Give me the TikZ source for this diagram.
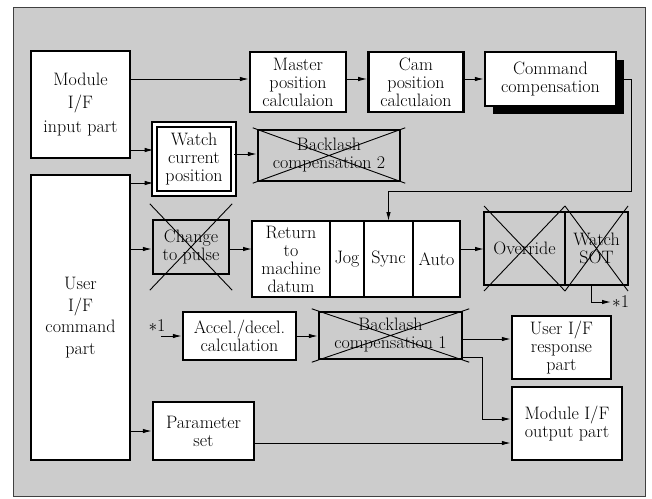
\documentclass[tikz,border=0pt]{standalone}
\usepackage{fontspec}
\usetikzlibrary{positioning, calc, arrows.meta, shadows}

\definecolor{panel}{HTML}{CCCCCC}

\tikzset{
  blk/.style={draw, line width=2.4pt, fill=white, align=center, inner sep=1pt,
              font=\fontsize{18}{18}\selectfont},
  xblk/.style={blk, fill=none},
  cell/.style={blk, outer sep=0pt, minimum height=76pt},
  xline/.style={line width=0.9pt},
  arr/.style={line width=1pt, -{Latex[length=9pt,width=4.5pt]}},
  note/.style={inner sep=1pt, font=\fontsize{18}{18}\selectfont},
}

% cross over a block: node, x overhang, y overhang
\newcommand{\boxcross}[3]{%
  \draw[xline] ($(#1.north west)+(-#2,-#3)$) -- ($(#1.south east)+(#2,#3)$)
               ($(#1.north east)+(#2,-#3)$) -- ($(#1.south west)+(-#2,#3)$);}

\begin{document}
\begin{tikzpicture}[x=1pt, y=-1pt]

    \useasboundingbox (0,0) rectangle (652,498);
    \draw[fill=panel, draw=black!75, line width=0.8pt] (13,7) rectangle (645,496);

    % top row
    \node[blk, minimum width=99pt, minimum height=107pt, font=\fontsize{18}{23.5}\selectfont]
        (minput) at (80.5,104.5) {Module\\I/F\\input part};
    \node[blk, minimum width=96pt, minimum height=60pt] (master) at (298,82) {Master\\position\\calculaion};
    \node[blk, minimum width=95pt, minimum height=60pt, right=20pt of master] (cam) {Cam\\position\\calculaion};
    \node[blk, minimum width=131pt, minimum height=54pt,
          drop shadow={shadow xshift=8pt, shadow yshift=-8pt, fill=black, opacity=1}]
        (cmdcomp) at (550.5,79) {Command\\compensation};

    \node[blk, double=white, double distance=3.5pt, line width=1.6pt, minimum width=79pt, minimum height=69pt]
        (watch) at (194,159) {Watch\\current\\position};
    \node[xblk, minimum width=142pt, minimum height=51pt] (back2) at (329,155.5) {Backlash\\compensation 2};

    \node[blk, minimum width=99pt, minimum height=285pt, font=\fontsize{18}{21.5}\selectfont]
        (ucmd) at (80.5,317.5) {User\\I/F\\command\\part};

    % middle row
    \node[xblk, minimum width=76pt, minimum height=54pt] (pulse) at (191,247) {Change\\to pulse};
    \node[cell, minimum width=78pt] (ret) at (291,259) {Return\\to\\machine\\datum};
    \node[cell, minimum width=34pt, right=0pt of ret] (jog) {Jog};
    \node[cell, minimum width=49pt, right=0pt of jog] (sync) {Sync};
    \node[cell, minimum width=47pt, right=0pt of sync] (auto) {Auto};

    \node[xblk, outer sep=0pt, minimum width=81pt, minimum height=73pt] (override) at (524.5,248.5) {Override};
    \node[xblk, outer sep=0pt, minimum width=63pt, minimum height=73pt, right=0pt of override] (sot) {Watch\\SOT};

    % lower rows
    \node[blk, minimum width=113pt, minimum height=48pt] (accel) at (239.5,336) {Accel./decel.\\calculation};
    \node[xblk, minimum width=143pt, minimum height=47pt] (back1) at (390.5,335.5) {Backlash\\compensation 1};
    \node[blk, minimum width=99pt, minimum height=63pt] (uresp) at (561.5,347.5) {User I/F\\response\\part};
    \node[blk, minimum width=110pt, minimum height=73pt] (moutput) at (567,423.5) {Module I/F\\output part};
    \node[blk, minimum width=101pt, minimum height=58pt] (param) at (203.5,431) {Parameter\\set};

    \node[note] (star1) at (157,326) {$\ast$1};
    \node[note, anchor=west] (star2) at (611,302) {$\ast$1};

    \boxcross{back2}{4}{1}
    \boxcross{pulse}{2}{15}
    \boxcross{override}{0}{6}
    \boxcross{sot}{0}{6}
    \boxcross{back1}{6}{2}

    \coordinate (turn) at (631,191);
    \coordinate (in1) at (161,336);
    \coordinate (bend) at (482,419);

    \draw[arr] (minput.east |- 0,79) -- (master.west |- 0,79);
    \draw[arr] (master.east |- 0,79) -- (cam.west |- 0,79);
    \draw[arr] (cam.east |- 0,79) -- (cmdcomp.west |- 0,79);
    \draw[arr] (cmdcomp.east) -| (turn) -| (sync.north);
    \draw[arr] (minput.east |- 0,150) -- (watch.west |- 0,150);
    \draw[arr] (ucmd.east |- 0,183) -- (watch.west |- 0,183);
    \draw[arr] (watch.east |- 0,154) -- (back2.west |- 0,154);
    \draw[arr] (ucmd.east |- 0,249) -- (pulse.west |- 0,249);
    \draw[arr] (pulse.east |- 0,249) -- (ret.west |- 0,249);
    \draw[arr] (auto.east |- 0,249) -- (override.west |- 0,249);
    \draw[arr] (sot.south -| 591,0) |- (star2.west);
    \draw[arr] (in1) -- (accel.west);
    \draw[arr] (accel.east) -- (accel.east -| back1.west);
    \draw[arr] (back1.east |- 0,339) -- (uresp.west |- 0,339);
    \draw[arr] (back1.east |- 0,357) -| (bend) -- (moutput.west |- bend);
    \draw[arr] (ucmd.east |- param.west) -- (param.west);
    \draw[arr] (param.east |- 0,443) -- (moutput.west |- 0,443);

\end{tikzpicture}
\end{document}
